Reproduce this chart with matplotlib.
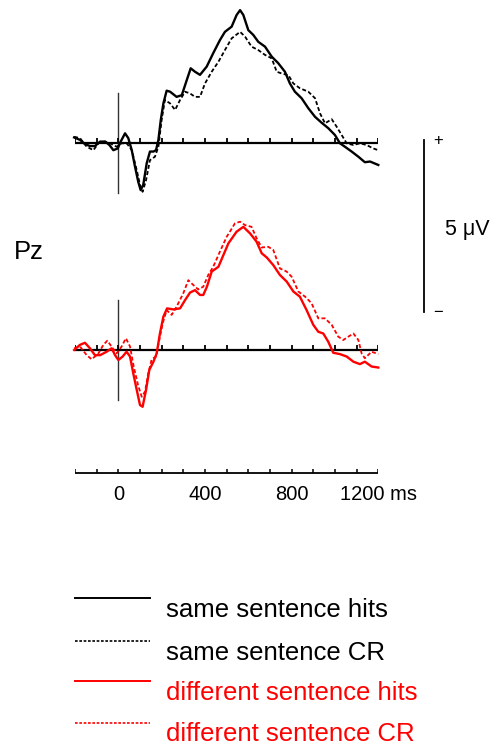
import numpy as np
import matplotlib
matplotlib.use("Agg")
import matplotlib.pyplot as plt
from matplotlib.lines import Line2D

plt.rcParams['font.family'] = ['Liberation Sans', 'DejaVu Sans']

# ---- data (time in ms, amplitude in microvolts, positive up) ----
same_hits_t = [-204, -177, -154, -131, -108, -84, -61, -41, -23, -3, 11, 31, 46, 62, 77, 92, 103, 115,
               131, 146, 162, 174, 185, 196, 208, 223, 239, 269, 293, 316, 334, 354, 377, 408, 438, 469,
               492, 523, 546, 562, 577, 600, 623, 646, 677, 708, 738, 769, 792, 815, 846, 877, 908,
               938, 969, 1000, 1023, 1046, 1077, 1108, 1138, 1162, 1200]
same_hits_v = [0.17, 0.10, -0.02, -0.08, -0.08, 0.05, 0.05, -0.05, -0.20, -0.15, 0.05, 0.29, 0.15, -0.20,
               -0.68, -1.12, -1.36, -1.21, -0.58, -0.24, -0.24, -0.20, 0.10, 0.68, 1.16, 1.53, 1.50, 1.35,
               1.40, 1.84, 2.18, 2.08, 1.99, 2.23, 2.62, 3.00, 3.24, 3.39, 3.73, 3.87, 3.73, 3.29, 3.15,
               2.95, 2.81, 2.52, 2.33, 2.08, 1.74, 1.50, 1.31, 1.02, 0.77, 0.60, 0.44, 0.24, 0.00, -0.10,
               -0.24, -0.39, -0.55, -0.53, -0.63]

same_cr_t = [-204, -177, -146, -115, -92, -61, -38, -8, 15, 39, 62, 85, 100, 112, 128, 146, 169, 185,
             200, 215, 239, 262, 285, 308, 331, 354, 377, 400, 431, 462, 492, 523, 562, 585, 615, 646,
             677, 708, 731, 754, 785, 808, 838, 877, 908, 931, 954, 985, 1008, 1031, 1054, 1085, 1115,
             1146, 1177, 1200]
same_cr_v = [0.19, 0.15, -0.10, -0.20, 0.00, 0.05, 0.00, -0.10, 0.00, 0.00, -0.20, -0.78, -1.21, -1.41,
             -1.07, -0.49, -0.39, -0.10, 0.68, 1.26, 1.16, 0.97, 1.26, 1.50, 1.45, 1.35, 1.35, 1.74,
             2.08, 2.37, 2.71, 3.05, 3.24, 3.10, 2.81, 2.71, 2.57, 2.47, 2.08, 2.03, 1.98, 1.74, 1.60,
             1.50, 1.31, 0.87, 0.58, 0.70, 0.48, 0.24, 0.00, -0.05, 0.00, -0.05, -0.15, -0.20]

diff_hits_t = [-204, -177, -154, -131, -108, -84, -54, -31, -15, 0, 20, 38, 54, 69, 85, 100, 112, 128,
               143, 162, 177, 192, 208, 225, 254, 285, 308, 331, 354, 377, 392, 409, 431, 462, 485,
               508, 546, 577, 608, 638, 662, 685, 715, 746, 777, 808, 838, 869, 900, 923, 946, 969,
               992, 1023, 1054, 1085, 1115, 1138, 1169, 1200]
diff_hits_v = [0.00, 0.15, 0.21, 0.05, -0.15, -0.15, -0.05, 0.05, -0.15, -0.29, -0.19, -0.05, -0.19,
               -0.68, -1.16, -1.60, -1.65, -1.16, -0.58, -0.34, -0.10, 0.48, 0.97, 1.21, 1.18, 1.21,
               1.45, 1.67, 1.74, 1.60, 1.60, 1.84, 2.28, 2.42, 2.76, 3.10, 3.44, 3.58, 3.39, 3.15, 2.81,
               2.69, 2.47, 2.18, 1.99, 1.70, 1.55, 1.16, 0.73, 0.53, 0.48, 0.24, -0.08, -0.12, -0.19,
               -0.34, -0.41, -0.34, -0.48, -0.51]

diff_cr_t = [-204, -177, -146, -123, -92, -69, -51, -31, -8, 15, 35, 54, 71, 91, 108, 123, 138, 154,
             174, 189, 205, 223, 246, 269, 300, 323, 346, 369, 392, 415, 438, 469, 500, 515, 538, 562,
             585, 615, 638, 662, 692, 715, 746, 777, 800, 831, 862, 892, 923, 954, 985, 1015, 1038,
             1062, 1085, 1108, 1123, 1138, 1169, 1200]
diff_cr_v = [0.05, 0.10, -0.15, -0.27, -0.10, 0.15, 0.27, 0.10, -0.10, 0.10, 0.34, 0.10, -0.48, -1.02,
             -1.36, -1.21, -0.68, -0.27, -0.19, 0.29, 0.78, 1.16, 1.02, 1.26, 1.65, 2.03, 1.89, 1.76,
             1.84, 2.18, 2.42, 2.86, 3.29, 3.44, 3.68, 3.73, 3.63, 3.58, 3.25, 2.98, 3.00, 2.91, 2.37,
             2.28, 2.13, 1.70, 1.55, 1.36, 0.92, 0.92, 0.73, 0.39, 0.29, 0.39, 0.48, 0.29, -0.10,
             -0.24, -0.05, -0.12]

time_ticks = np.arange(-200, 1201, 100)
time_labels = {0: "0", 400: "400", 800: "800", 1200: "1200 ms"}
scale_uv = 5
legend_labels = ["same sentence hits", "same sentence CR",
                 "different sentence hits", "different sentence CR"]
channel = "Pz"

# ---- figure ----
W, H = 497, 746
fig = plt.figure(figsize=(W / 100, H / 100), dpi=100)

def fx(px):
    return px / W

def fy(py):
    return 1 - py / H

ppu = 34.4  # pixels per microvolt
x_left, x_right = 75.0, 378.3
ylo, yhi = -2.0, 4.0

def make_panel(base_y):
    top = base_y - yhi * ppu
    bot = base_y - ylo * ppu
    ax = fig.add_axes([fx(x_left), fy(bot), fx(x_right - x_left), (bot - top) / H])
    ax.set_xlim(-200, 1200)
    ax.set_ylim(ylo, yhi)
    ax.axis('off')
    return ax

BLACK = '#000000'
RED = '#ff0000'
dash = (0, (2.2, 1.3))

ax1 = make_panel(143.3)
ax2 = make_panel(350.0)

for ax in (ax1, ax2):
    ax.plot([-200, 1200], [0, 0], color='black', lw=1.6, solid_capstyle='butt', zorder=3)
    ax.vlines(time_ticks, 0, 0.14, color='black', lw=1.3, zorder=3)
    ax.plot([0, 0], [-1.45, 1.45], color='#333333', lw=1.0, zorder=2)

ax1.plot(same_hits_t, same_hits_v, color=BLACK, lw=1.7, clip_on=False, zorder=4)
ax1.plot(same_cr_t, same_cr_v, color=BLACK, lw=1.3, ls=dash, clip_on=False, zorder=4)
ax2.plot(diff_hits_t, diff_hits_v, color=RED, lw=1.7, clip_on=False, zorder=4)
ax2.plot(diff_cr_t, diff_cr_v, color=RED, lw=1.3, ls=dash, clip_on=False, zorder=4)

# scale bar (5 uV) attached to top panel data coords
t_bar = (424 - 118.3) / 0.2167
ax1.plot([t_bar, t_bar], [0.1, 0.1 - scale_uv], color='black', lw=1.3, clip_on=False)

# time axis
ax3 = fig.add_axes([fx(x_left), fy(490), fx(x_right - x_left), (490 - 460) / H])
ax3.set_xlim(-200, 1200)
ax3.set_ylim(0, 1)
ax3.axis('off')
base3 = (490 - 473) / 30
ax3.plot([-200, 1200], [base3, base3], color='black', lw=1.3, solid_capstyle='butt')
ax3.vlines(time_ticks, base3, base3 + 4 / 30, color='black', lw=1.1)
for t, lab in time_labels.items():
    ax3.text(t, (490 - 499.5) / 30, lab, ha='center', va='baseline', fontsize=14.5, clip_on=False)

# labels
fig.text(fx(29), fy(259), channel, ha='center', va='baseline', fontsize=18.5)
fig.text(fx(467.5), fy(235), f"{scale_uv} \u03bcV", ha='center', va='baseline', fontsize=15.5)
fig.text(fx(438), fy(141), "+", ha='center', va='center', fontsize=12)
fig.text(fx(438), fy(312), "\u2212", ha='center', va='center', fontsize=12)

# legend
leg_line_y = [598, 641, 681, 723]
leg_text_base = [617, 660, 700, 741]
styles = [(BLACK, '-'), (BLACK, (0, (1.6, 1.0))), (RED, '-'), (RED, (0, (1.6, 1.0)))]
for (c, ls), ly, ty, lab in zip(styles, leg_line_y, leg_text_base, legend_labels):
    fig.add_artist(Line2D([fx(75), fx(150)], [fy(ly), fy(ly)], color=c, ls=ls,
                          lw=1.4 if ls == '-' else 1.2))
    fig.text(fx(166), fy(ty), lab, ha='left', va='baseline', fontsize=18.5, color=c)

fig.savefig("out.png", dpi=100)
